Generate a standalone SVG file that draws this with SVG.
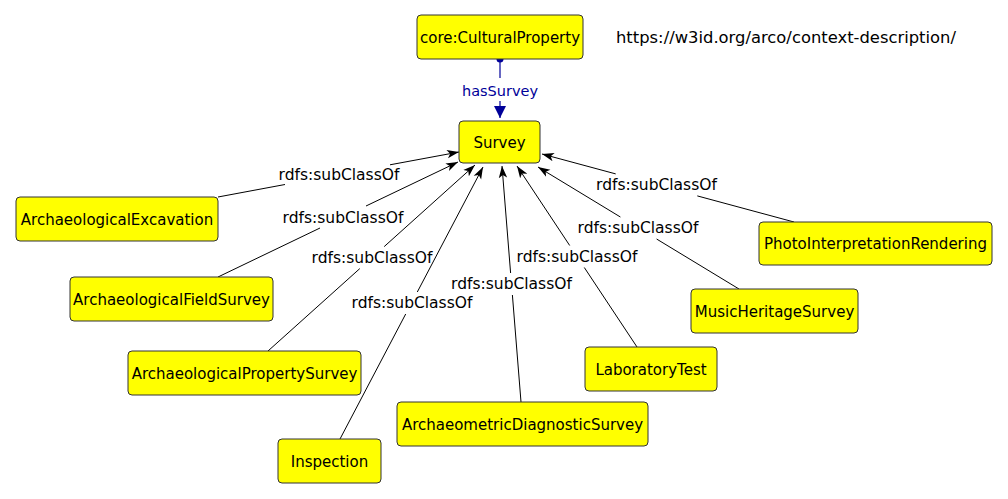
<svg xmlns="http://www.w3.org/2000/svg" width="1008" height="499" viewBox="0 0 1008 499">
<style>
.node rect{fill:#ffff00;stroke:#333;stroke-width:1}
.node text{font-family:"DejaVu Sans",sans-serif;font-size:15px;fill:#000;text-anchor:middle}
.edge{stroke:#000;stroke-width:1;fill:none}
.lbl{font-family:"DejaVu Sans",sans-serif;font-size:15.5px;fill:#000;text-anchor:middle}
.prop{stroke:#000099;stroke-width:1.2;fill:none}
.plbl{font-family:"DejaVu Sans",sans-serif;font-size:14.5px;fill:#000099;text-anchor:middle}
</style>
<defs>
<marker id="arr" markerUnits="userSpaceOnUse" markerWidth="13" markerHeight="10" refX="12" refY="5" orient="auto">
<path d="M0,0.8 L12,5 L0,9.2 L3,5 Z" fill="#000"/>
</marker>
<marker id="parr" markerUnits="userSpaceOnUse" markerWidth="13" markerHeight="13" refX="12" refY="6" orient="auto">
<path d="M0,0 L12,6 L0,12 Z" fill="#000099"/>
</marker>
</defs>
<rect width="1008" height="499" fill="#fff"/>
<g id="connectors">
<g id="e-hasSurvey">
<line class="prop" x1="500" y1="59" x2="500" y2="78"/>
<line class="prop" x1="500" y1="101" x2="500" y2="118" marker-end="url(#parr)"/>
<circle cx="500" cy="59" r="3.5" fill="#000099"/>
<text class="plbl" x="500" y="96">hasSurvey</text>
</g>
<g id="e1">
<line class="edge" x1="218" y1="197" x2="285" y2="184.5"/>
<line class="edge" x1="390" y1="164.8" x2="459" y2="152" marker-end="url(#arr)"/>
<text class="lbl" x="339" y="180">rdfs:subClassOf</text>
</g>
<g id="e2">
<line class="edge" x1="218" y1="277" x2="320" y2="228"/>
<line class="edge" x1="366" y1="206" x2="458" y2="162" marker-end="url(#arr)"/>
<text class="lbl" x="343" y="223">rdfs:subClassOf</text>
</g>
<g id="e3">
<line class="edge" x1="268" y1="351" x2="359.8" y2="268.6"/>
<line class="edge" x1="384.2" y1="246.6" x2="475" y2="165" marker-end="url(#arr)"/>
<text class="lbl" x="372" y="263">rdfs:subClassOf</text>
</g>
<g id="e4">
<line class="edge" x1="340" y1="439" x2="405.7" y2="314"/>
<line class="edge" x1="417.3" y1="292" x2="483" y2="167" marker-end="url(#arr)"/>
<text class="lbl" x="412" y="308">rdfs:subClassOf</text>
</g>
<g id="e5">
<line class="edge" x1="521" y1="402" x2="512.4" y2="295"/>
<line class="edge" x1="510.6" y1="273" x2="502" y2="166" marker-end="url(#arr)"/>
<text class="lbl" x="511.5" y="289">rdfs:subClassOf</text>
</g>
<g id="e6">
<line class="edge" x1="637" y1="347" x2="584.3" y2="267.5"/>
<line class="edge" x1="569.7" y1="245.5" x2="517" y2="166" marker-end="url(#arr)"/>
<text class="lbl" x="577" y="262">rdfs:subClassOf</text>
</g>
<g id="e7">
<line class="edge" x1="739" y1="289" x2="656.6" y2="239"/>
<line class="edge" x1="620.4" y1="217" x2="538" y2="167" marker-end="url(#arr)"/>
<text class="lbl" x="638" y="233">rdfs:subClassOf</text>
</g>
<g id="e8">
<line class="edge" x1="794" y1="222" x2="697.3" y2="195.9"/>
<line class="edge" x1="615.7" y1="173.9" x2="542" y2="154" marker-end="url(#arr)"/>
<text class="lbl" x="656.5" y="190">rdfs:subClassOf</text>
</g>
</g>
<g id="n-CulturalProperty" class="node"><rect x="417" y="15" width="166" height="44" rx="4"/><text x="500" y="42.5">core:CulturalProperty</text></g>
<g id="n-Survey" class="node"><rect x="459" y="121" width="81" height="42" rx="4"/><text x="499.5" y="147.5">Survey</text></g>
<g id="n-ArchaeologicalExcavation" class="node"><rect x="16" y="197" width="202" height="44" rx="4"/><text x="117" y="224.5">ArchaeologicalExcavation</text></g>
<g id="n-ArchaeologicalFieldSurvey" class="node"><rect x="70" y="277" width="203" height="44" rx="4"/><text x="171.5" y="304.5">ArchaeologicalFieldSurvey</text></g>
<g id="n-ArchaeologicalPropertySurvey" class="node"><rect x="128" y="351" width="233" height="44" rx="4"/><text x="244.5" y="378.5">ArchaeologicalPropertySurvey</text></g>
<g id="n-Inspection" class="node"><rect x="278" y="439" width="103" height="44" rx="4"/><text x="329.5" y="466.5">Inspection</text></g>
<g id="n-ArchaeometricDiagnosticSurvey" class="node"><rect x="397" y="402" width="251" height="44" rx="4"/><text x="522.5" y="429.5">ArchaeometricDiagnosticSurvey</text></g>
<g id="n-LaboratoryTest" class="node"><rect x="585" y="347" width="132" height="44" rx="4"/><text x="651" y="374.5">LaboratoryTest</text></g>
<g id="n-MusicHeritageSurvey" class="node"><rect x="691" y="289" width="167" height="44" rx="4"/><text x="774.5" y="316.5">MusicHeritageSurvey</text></g>
<g id="n-PhotoInterpretationRendering" class="node"><rect x="759" y="222" width="233" height="43" rx="4"/><text x="875.5" y="249">PhotoInterpretationRendering</text></g>
<text x="616" y="43" font-family="DejaVu Sans, sans-serif" font-size="15.5" textLength="340" lengthAdjust="spacingAndGlyphs" fill="#000">https://w3id.org/arco/context-description/</text>
</svg>
